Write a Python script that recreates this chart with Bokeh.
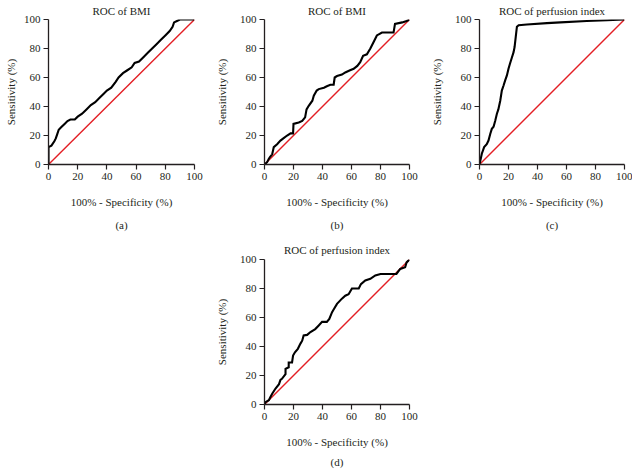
from bokeh.plotting import figure
from bokeh.layouts import row, column, Spacer
from bokeh.models import Range1d, Title, FixedTicker
from bokeh.embed import file_html
from bokeh.resources import INLINE

# ---- data ----
ticks = [0, 20, 40, 60, 80, 100]
diag = [0, 100]

a_fpr = [0, 0, 2, 4, 5, 6, 7, 9, 11, 13, 15, 18, 20, 23, 26, 29, 32, 35, 38, 40, 43, 46, 48, 51, 54, 57, 59, 62, 65, 68, 71, 74, 77, 80, 83, 85, 86, 88, 90, 100]
a_tpr = [0, 12, 13, 16, 18, 21, 24, 26, 28, 30, 31, 31, 33, 35, 38, 41, 43, 46, 49, 51, 53, 57, 60, 63, 65, 67, 70, 71, 74, 77, 80, 83, 86, 89, 92, 95, 98, 99, 100, 100]

b_fpr = [0, 1.8, 3, 4, 5.3, 6.4, 8.7, 11, 13, 15.6, 18, 19.7, 20, 23.6, 26, 28, 29, 30.5, 33, 34, 36, 37.4, 41, 43, 45.4, 47.7, 48.4, 50, 53.4, 55.7, 59, 61.5, 64, 66, 68, 70.6, 73, 75, 77.5, 81, 89, 90, 95, 98, 100]
b_tpr = [0, 1.6, 4, 5.5, 7, 12, 14, 16.5, 18, 20, 21.5, 21.5, 28, 29, 30, 32.5, 38, 40.5, 44, 47.5, 51, 52, 53, 54, 55, 55, 60, 61, 62, 63.5, 65, 66, 68, 70.5, 75, 76, 80, 84, 89, 91, 91, 97, 98, 99, 100]

c_fpr = [0, 1.6, 3.2, 5, 6.2, 7.4, 8.5, 9.7, 10.8, 12, 13, 14.3, 15.4, 16.6, 17.7, 18.9, 20, 21, 22.4, 23.5, 24.2, 25, 25.8, 27, 32.7, 46.5, 55.8, 74, 88, 100]
c_tpr = [0, 7.4, 12, 14, 16.5, 21, 24.6, 26, 30, 35, 38, 44, 51, 54.5, 58, 61.4, 66, 69.5, 74, 77.5, 81, 88, 95, 96, 96.5, 97.5, 98, 99, 99.5, 100]

d_fpr = [0, 0.7, 3, 4, 5.3, 7.6, 10, 11, 12, 14.5, 14.5, 16.7, 16.7, 19, 19.7, 21, 23, 24.8, 26, 27, 29.4, 31.7, 35, 37.4, 39.7, 43, 44.7, 46.6, 48, 50, 53.4, 55.7, 58, 60.3, 65, 66.5, 69.5, 73, 76.4, 80, 91, 93.6, 97, 98, 100]
d_tpr = [0, 1.6, 3, 5, 7.4, 11, 14, 17, 17.7, 21, 24.6, 25.7, 29, 29, 33.8, 36, 38.4, 42, 44, 47.6, 48, 50, 52, 54.5, 57, 57, 59, 63.7, 66, 69.4, 73, 75, 76, 80, 80, 83, 85.5, 86.7, 89, 90, 90, 93.5, 94.7, 98, 100]

FONT = "Liberation Serif"
INK = "#231f20"
RED = "#e31e24"


def panel(fpr, tpr, title, tag, left, right, ylab_standoff, top=19, bottom=73,
          fw=145, fh=145, title_standoff=5, tag_standoff=13):
    p = figure(width=left + fw + right, height=top + fh + bottom,
               x_range=Range1d(0, 100), y_range=Range1d(0, 100),
               output_backend="svg", toolbar_location=None,
               min_border_left=left, min_border_right=right,
               min_border_top=top, min_border_bottom=bottom)
    p.outline_line_color = None
    p.grid.visible = False
    p.background_fill_color = "white"
    p.border_fill_color = "white"

    p.title.text = title
    p.title.align = "center"
    p.title.text_font = FONT
    p.title.text_font_size = "11px"
    p.title.text_font_style = "normal"
    p.title.text_color = INK
    p.title.standoff = title_standoff

    for ax in (p.xaxis[0], p.yaxis[0]):
        ax.ticker = FixedTicker(ticks=ticks)
        ax.minor_tick_line_color = None
        ax.major_tick_in = 0
        ax.major_tick_out = 5
        ax.major_tick_line_color = INK
        ax.major_tick_line_width = 1.2
        ax.axis_line_color = INK
        ax.axis_line_width = 1.3
        ax.major_label_text_font = FONT
        ax.major_label_text_font_size = "11px"
        ax.major_label_text_color = INK
        ax.major_label_standoff = 3
        ax.axis_label_text_font = FONT
        ax.axis_label_text_font_size = "11px"
        ax.axis_label_text_font_style = "normal"
        ax.axis_label_text_color = INK

    p.xaxis.axis_label = "100% - Specificity (%)"
    p.xaxis.axis_label_standoff = 13
    p.yaxis.axis_label = "Sensitivity (%)"
    p.yaxis.axis_label_standoff = ylab_standoff

    p.add_layout(Title(text=tag, align="center", text_font=FONT, text_font_size="11px",
                       text_font_style="normal", text_color=INK, standoff=tag_standoff), "below")

    p.line(diag, diag, line_color=RED, line_width=1.4)
    p.line(fpr, tpr, line_color="black", line_width=2.1, line_join="miter")
    return p


pa = panel(a_fpr, a_tpr, "ROC of BMI", "(a)", 48, 17, 4, fw=146)
pb = panel(b_fpr, b_tpr, "ROC of BMI", "(b)", 53, 17, 9)
pc = panel(c_fpr, c_tpr, "ROC of perfusion index", "(c)", 53, 8, 9)
pd = panel(d_fpr, d_tpr, "ROC of perfusion index", "(d)", 53, 17, 9,
           top=22, bottom=66, title_standoff=8, tag_standoff=6)

layout = column(row(pa, pb, pc), row(Spacer(width=211, height=10), pd))

open("out.html", "w").write(file_html(layout, INLINE))
